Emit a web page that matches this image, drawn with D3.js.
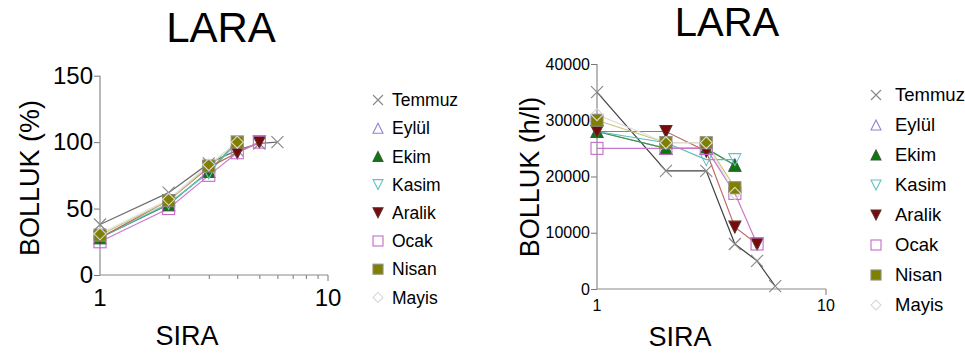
<!DOCTYPE html>
<html>
<head>
<meta charset="utf-8">
<script src="https://cdn.jsdelivr.net/npm/d3@7"></script>
<style>
  html, body { margin: 0; padding: 0; background: #fff; }
  svg { display: block; font-family: Arial, "Liberation Sans", sans-serif; }
</style>
</head>
<body>
<svg id="chart" width="965" height="358"></svg>
<script>
// Month series, drawn in this order
const months = ["Temmuz", "Eylül", "Ekim", "Kasim", "Aralik", "Ocak", "Nisan", "Mayis"];

// Cumulative abundance (%) by rank
const pctTemmuz = [38, 62, 84, 94, 99, 100];
const pctEylul  = [28, 53, 78, 100];
const pctEkim   = [28, 53, 78, 100];
const pctKasim  = [28, 54, 77, 100];
const pctAralik = [28, 56, 81, 92, 100];
const pctOcak   = [25, 50, 75, 92, 100];
const pctNisan  = [30, 56, 82, 100];
const pctMayis  = [31, 57, 83, 100];

// Abundance (h/l) by rank
const hlTemmuz = [35000, 21000, 21000, 8000, 5000, 500];
const hlEylul  = [28000, 25000, 25000, 22000];
const hlEkim   = [28000, 25000, 25000, 22000];
const hlKasim  = [28000, 26000, 23000, 23000];
const hlAralik = [28000, 28000, 24500, 11000, 8000];
const hlOcak   = [25000, 25000, 25000, 17000, 8000];
const hlNisan  = [30000, 26000, 26000, 18000];
const hlMayis  = [31000, 26000, 26000, 17000];

const pctTicks = [0, 50, 100, 150];
const hlTicks = [0, 10000, 20000, 30000, 40000];
const rankTicks = [1, 10];

const pctSeries = [pctTemmuz, pctEylul, pctEkim, pctKasim, pctAralik, pctOcak, pctNisan, pctMayis];
const hlSeries  = [hlTemmuz, hlEylul, hlEkim, hlKasim, hlAralik, hlOcak, hlNisan, hlMayis];

// Marker / line styles per month
const styles = {
  "Temmuz": { shape: "x",        fill: "none",    stroke: "#8a8a8a", line: "#6e6e6e", lineR: "#404040" },
  "Eylül":  { shape: "triUp",    fill: "none",    stroke: "#8f84d6", line: "#a69de0", lineR: "#a69de0" },
  "Ekim":   { shape: "triUp",    fill: "#0a7a0a", stroke: "#3a5a3a", line: "#3a9a55", lineR: "#3a9a40" },
  "Kasim":  { shape: "triDown",  fill: "none",    stroke: "#63c3c3", line: "#63c3c3", lineR: "#5cbcbc" },
  "Aralik": { shape: "triDown",  fill: "#7a0a0a", stroke: "#5a3030", line: "#b86a50", lineR: "#c26a6a" },
  "Ocak":   { shape: "square",   fill: "none",    stroke: "#c46cc8", line: "#c97ccb", lineR: "#c878c8" },
  "Nisan":  { shape: "squareF",  fill: "#808000", stroke: "#8c8c7a", line: "#cfc98a", lineR: "#c9c47a" },
  "Mayis":  { shape: "diamond",  fill: "none",    stroke: "#d9d9d9", line: "#e2e2e2", lineR: "#dedede" }
};

const svg = d3.select("#chart");

function drawMarker(g, shape, st, x, y, s) {
  const h = s / 2;
  if (shape === "x") {
    g.append("path")
      .attr("d", `M${x-h},${y-h}L${x+h},${y+h}M${x-h},${y+h}L${x+h},${y-h}`)
      .attr("stroke", st.stroke).attr("stroke-width", 1.2).attr("fill", "none");
  } else if (shape === "triUp") {
    g.append("path")
      .attr("d", `M${x},${y-h}L${x+h},${y+h}L${x-h},${y+h}Z`)
      .attr("fill", st.fill).attr("stroke", st.stroke).attr("stroke-width", 1.1);
  } else if (shape === "triDown") {
    g.append("path")
      .attr("d", `M${x-h},${y-h}L${x+h},${y-h}L${x},${y+h}Z`)
      .attr("fill", st.fill).attr("stroke", st.stroke).attr("stroke-width", 1.1);
  } else if (shape === "square" || shape === "squareF") {
    g.append("rect")
      .attr("x", x - h).attr("y", y - h).attr("width", s).attr("height", s)
      .attr("fill", st.fill).attr("stroke", st.stroke).attr("stroke-width", 1.1);
  } else if (shape === "diamond") {
    g.append("path")
      .attr("d", `M${x},${y-h}L${x+h},${y}L${x},${y+h}L${x-h},${y}Z`)
      .attr("fill", st.fill).attr("stroke", st.stroke).attr("stroke-width", 1.1);
  }
}

function drawPanel(cfg) {
  const g = svg.append("g");
  const x = d3.scaleLog().domain([1, 10]).range([cfg.x0, cfg.x1]);
  const y = d3.scaleLinear().domain(cfg.yDomain).range([cfg.y0, cfg.y1]);

  // axes
  const xAxis = d3.axisBottom(x).tickValues(cfg.minorX ? [2,3,4,5,6,7,8,9] : []).tickSize(cfg.minorX ? 4 : 0).tickFormat("");
  const gx = g.append("g").attr("transform", `translate(0,${cfg.y0})`).call(xAxis);
  gx.select(".domain").remove();
  gx.selectAll(".tick line").attr("stroke", "#777");
  g.append("line").attr("x1", cfg.x0).attr("x2", cfg.x1).attr("y1", cfg.y0).attr("y2", cfg.y0)
    .attr("stroke", "#8a8a8a").attr("stroke-width", 1.2);
  g.append("line").attr("x1", cfg.x1).attr("x2", cfg.x1).attr("y1", cfg.y0).attr("y2", cfg.y0 + 6)
    .attr("stroke", "#777");
  rankTicks.forEach(t => {
    g.append("text").attr("x", x(t)).attr("y", cfg.xLabY)
      .attr("text-anchor", "middle").attr("font-size", cfg.tickFont).attr("fill", "#000").text(t);
  });

  const yAxis = d3.axisLeft(y).tickValues(cfg.yTicks).tickSize(6).tickFormat(d => d);
  const gy = g.append("g").attr("transform", `translate(${cfg.x0},0)`).call(yAxis);
  gy.select(".domain").remove();
  gy.selectAll(".tick line").attr("stroke", "#777");
  gy.selectAll(".tick text").attr("font-size", cfg.tickFont).attr("font-family", "Arial, 'Liberation Sans', sans-serif")
    .attr("fill", "#000").attr("x", -7);
  g.append("line").attr("x1", cfg.x0).attr("x2", cfg.x0).attr("y1", cfg.y0).attr("y2", y(cfg.yDomain[1]))
    .attr("stroke", "#8a8a8a").attr("stroke-width", 1.2);

  // lines
  const line = d3.line().x((d, i) => x(i + 1)).y(d => y(d));
  cfg.series.forEach((vals, k) => {
    const st = styles[months[k]];
    g.append("path").datum(vals).attr("d", line).attr("fill", "none")
      .attr("stroke", cfg.right ? st.lineR : st.line).attr("stroke-width", 1.2);
  });
  // markers
  cfg.series.forEach((vals, k) => {
    const st = styles[months[k]];
    vals.forEach((v, i) => drawMarker(g, st.shape, st, x(i + 1), y(v), cfg.markSize));
  });

  // titles
  g.append("text").attr("x", cfg.titleX).attr("y", cfg.titleY).attr("text-anchor", "middle")
    .attr("font-size", cfg.titleFont).text("LARA");
  g.append("text").attr("transform", `translate(${cfg.yTitleX},${cfg.yTitleY}) rotate(-90)`)
    .attr("text-anchor", "middle").attr("font-size", cfg.axisTitleFont).text(cfg.yTitle);
  g.append("text").attr("x", cfg.xTitleX).attr("y", cfg.xTitleY).attr("text-anchor", "middle")
    .attr("font-size", cfg.axisTitleFont).text("SIRA");

  // legend
  months.forEach((m, k) => {
    const st = styles[m];
    const ly = cfg.legY + k * cfg.legStep;
    drawMarker(g, st.shape, st, cfg.legX, ly, cfg.legMark);
    g.append("text").attr("x", cfg.legX + cfg.legGap).attr("y", ly).attr("dy", "0.35em")
      .attr("font-size", cfg.legFont).text(m);
  });
}

drawPanel({
  x0: 100, x1: 328, y0: 275, y1: 75.7, yDomain: [0, 150], yTicks: pctTicks,
  series: pctSeries, minorX: true, tickFont: 24, xLabY: 306, markSize: 12,
  titleX: 221, titleY: 42, titleFont: 42,
  yTitle: "BOLLUK (%)", yTitleX: 39, yTitleY: 178, axisTitleFont: 27,
  xTitleX: 187, xTitleY: 345,
  legX: 378, legY: 100, legStep: 28.2, legMark: 10, legGap: 14, legFont: 17.5
});

drawPanel({
  x0: 597, x1: 826, y0: 289, y1: 64, yDomain: [0, 40000], yTicks: hlTicks,
  series: hlSeries, minorX: false, tickFont: 16, xLabY: 311, markSize: 12, right: true,
  titleX: 727, titleY: 36, titleFont: 40,
  yTitle: "BOLLUK (h/l)", yTitleX: 539, yTitleY: 177, axisTitleFont: 27,
  xTitleX: 680, xTitleY: 346,
  legX: 876, legY: 95, legStep: 30, legMark: 10, legGap: 19, legFont: 18.5
});
</script>
</body>
</html>
